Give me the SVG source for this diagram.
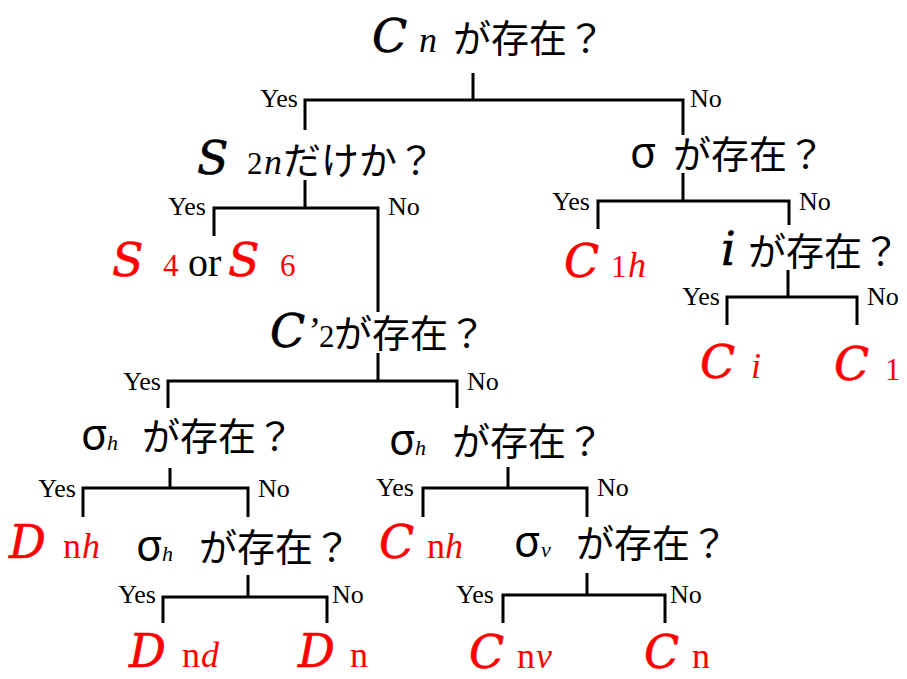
<svg xmlns="http://www.w3.org/2000/svg" width="907" height="679" viewBox="0 0 907 679">
<style>
.ln{stroke:#000;stroke-width:3;fill:none}
.yn{font-family:"Liberation Serif",serif;font-size:26px;fill:#000}
.jp{font-family:"Noto Sans CJK JP","Noto Sans",sans-serif;font-size:38px;fill:#000}
.sg{font-family:"Noto Sans","DejaVu Sans",sans-serif;font-size:43px;fill:#000}
.sr{font-family:"Liberation Serif",serif;fill:#000}
.mi{font-family:"Liberation Serif",serif;font-style:italic}
.up{font-family:"Liberation Serif",serif;font-style:normal}
.big{font-family:"DejaVu Serif",serif;font-size:46px;font-style:italic;stroke-width:0.6}
.sub{font-size:36px}
.dg{font-size:31px}
.tiny{font-size:22px}
.red{fill:#f00}
.blk{fill:#000}
.big.red{stroke:#f00}
.big.blk{stroke:#000}
</style>
<rect width="907" height="679" fill="#fff"/>
<g id="connectors">
<path class="ln" d="M473,73V100M305,130V100H683V135"/>
<path class="ln" d="M305,180V208M214,236V208H378V312"/>
<path class="ln" d="M683,173V201M598,229V201H789V225"/>
<path class="ln" d="M788,270V297M727,325V297H857V325"/>
<path class="ln" d="M378,353V381M168,408V381H457V408"/>
<path class="ln" d="M170,468V488M83,517V488H248V517"/>
<path class="ln" d="M508,467V488M423,517V488H587V517"/>
<path class="ln" d="M248,575V597M163,623V597H327V623"/>
<path class="ln" d="M587,573V595M503,623V595H665V623"/>
<text class="yn" x="298" y="107" text-anchor="end">Yes</text><text class="yn" x="690" y="107">No</text>
<text class="yn" x="206" y="215" text-anchor="end">Yes</text><text class="yn" x="388" y="215">No</text>
<text class="yn" x="590" y="210" text-anchor="end">Yes</text><text class="yn" x="799" y="210">No</text>
<text class="yn" x="720" y="305" text-anchor="end">Yes</text><text class="yn" x="867" y="305">No</text>
<text class="yn" x="161" y="390" text-anchor="end">Yes</text><text class="yn" x="467" y="390">No</text>
<text class="yn" x="76" y="497" text-anchor="end">Yes</text><text class="yn" x="258" y="497">No</text>
<text class="yn" x="414" y="496" text-anchor="end">Yes</text><text class="yn" x="597" y="496">No</text>
<text class="yn" x="156" y="603" text-anchor="end">Yes</text><text class="yn" x="332" y="603">No</text>
<text class="yn" x="494" y="603" text-anchor="end">Yes</text><text class="yn" x="670" y="603">No</text>
</g>
<g id="q-cn">
<text class="big blk" x="372" y="52">C</text><text class="mi sub blk" x="419" y="52">n</text><text class="jp" x="453" y="52">が存在？</text>
</g>
<g id="q-s2n">
<text class="big blk" x="197" y="174">S</text><text class="up dg blk" x="247" y="174">2</text><text class="mi sub blk" x="264" y="174">n</text><text class="jp" x="283" y="174">だけか？</text>
</g>
<g id="r-s4s6">
<text class="big red" x="112" y="276">S</text><text class="up dg red" x="163" y="276">4</text><text class="sr" style="font-size:40px" x="188" y="276">or</text><text class="big red" x="228" y="276">S</text><text class="up dg red" x="280" y="276">6</text>
</g>
<g id="q-sigma">
<text class="sg" x="630" y="168">σ</text><text class="jp" x="673" y="168">が存在？</text>
</g>
<g id="r-c1h">
<text class="big red" x="564" y="277">C</text><text class="up dg red" x="611" y="277">1</text><text class="mi sub red" x="628" y="277">h</text>
</g>
<g id="q-i">
<text class="big blk" x="721" y="265">i</text><text class="jp" x="748" y="265">が存在？</text>
</g>
<g id="r-ci">
<text class="big red" x="700" y="378">C</text><text class="mi sub red" x="751" y="378">i</text>
</g>
<g id="r-c1">
<text class="big red" x="834" y="380">C</text><text class="up dg red" x="885" y="380">1</text>
</g>
<g id="q-c2">
<text class="big blk" x="270" y="347">C</text><text class="mi blk" style="font-size:38px" x="306" y="343">’</text><text class="up dg blk" x="319" y="347">2</text><text class="jp" x="334" y="347">が存在？</text>
</g>
<g id="q-sh1">
<text class="sg" x="81" y="450">σ</text><text class="mi tiny blk" x="107" y="450">h</text><text class="jp" x="142" y="450">が存在？</text>
</g>
<g id="q-sh2">
<text class="sg" x="389" y="455">σ</text><text class="mi tiny blk" x="415" y="455">h</text><text class="jp" x="452" y="455">が存在？</text>
</g>
<g id="r-dnh">
<text class="big red" x="9" y="558">D</text><text class="up sub red" x="63" y="558">n</text><text class="mi sub red" x="82" y="558">h</text>
</g>
<g id="q-sh3">
<text class="sg" x="136" y="561">σ</text><text class="mi tiny blk" x="162" y="561">h</text><text class="jp" x="199" y="561">が存在？</text>
</g>
<g id="r-cnh">
<text class="big red" x="379" y="558">C</text><text class="up sub red" x="427" y="558">n</text><text class="mi sub red" x="445" y="558">h</text>
</g>
<g id="q-sv">
<text class="sg" x="514" y="557">σ</text><text class="mi tiny blk" x="541" y="557">v</text><text class="jp" x="576" y="557">が存在？</text>
</g>
<g id="r-dnd">
<text class="big red" x="129" y="667">D</text><text class="up sub red" x="182" y="667">n</text><text class="mi sub red" x="201" y="667">d</text>
</g>
<g id="r-dn">
<text class="big red" x="298" y="667">D</text><text class="up sub red" x="350" y="667">n</text>
</g>
<g id="r-cnv">
<text class="big red" x="469" y="668">C</text><text class="up sub red" x="517" y="668">n</text><text class="mi sub red" x="536" y="668">v</text>
</g>
<g id="r-cn">
<text class="big red" x="644" y="668">C</text><text class="up sub red" x="692" y="668">n</text>
</g>
</svg>
